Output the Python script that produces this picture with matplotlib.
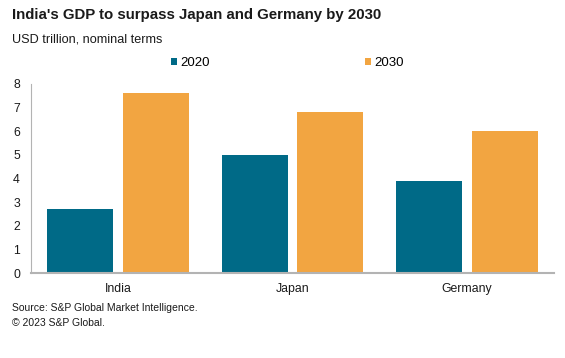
import matplotlib
matplotlib.use("Agg")
import matplotlib.pyplot as plt
import numpy as np

plt.rcParams["font.family"] = ["Liberation Sans", "DejaVu Sans"]

countries = ["India", "Japan", "Germany"]
years = ["2020", "2030"]
gdp_2020 = [2.7, 5.0, 3.9]
gdp_2030 = [7.6, 6.8, 6.0]
y_ticks = [0, 1, 2, 3, 4, 5, 6, 7, 8]

TEAL = "#006a87"
ORANGE = "#f2a541"
GREY = "#b3b3b3"
TXT = "#1a1a1a"

fig = plt.figure(figsize=(5.65, 3.58), dpi=100)
ax = fig.add_axes([31 / 565, 1 - 273 / 358, (554 - 31) / 565, (273 - 84) / 358])

x = np.arange(len(countries))
w = 0.378
off = 0.217
b1 = ax.bar(x - off, gdp_2020, w, color=TEAL, label=years[0])
b2 = ax.bar(x + off, gdp_2030, w, color=ORANGE, label=years[1])

ax.set_xlim(-0.5, len(countries) - 0.5)
ax.set_ylim(0, 8)
ax.set_yticks(y_ticks)
ax.set_xticks(x)
ax.set_xticklabels(countries)
ax.tick_params(axis="both", length=0, labelsize=8.8, colors=TXT)
ax.tick_params(axis="y", pad=8)
ax.tick_params(axis="x", pad=7)

for s in ["top", "right"]:
    ax.spines[s].set_visible(False)
ax.spines["left"].set_color(GREY)
ax.spines["left"].set_linewidth(0.8)
ax.spines["bottom"].set_color(GREY)
ax.spines["bottom"].set_linewidth(1.5)

# legend spread out like the original
for h, xpos in [(b1, 171), (b2, 365)]:
    fig.legend(handles=[h], loc="center left", bbox_to_anchor=(xpos / 565, 1 - 63 / 358),
               frameon=False, fontsize=9.5, handlelength=0.42, handleheight=0.42,
               handletextpad=0.3, borderaxespad=0, borderpad=0)

fig.text(12 / 565, 1 - 15 / 358, "India's GDP to surpass Japan and Germany by 2030",
         fontsize=10.8, fontweight="bold", color=TXT, va="center")
fig.text(12 / 565, 1 - 39 / 358, "USD trillion, nominal terms",
         fontsize=9.1, color=TXT, va="center")
fig.text(12 / 565, 1 - 308 / 358, "Source: S&P Global Market Intelligence.",
         fontsize=7.5, color=TXT, va="center")
fig.text(12 / 565, 1 - 323 / 358, "\u00a9 2023 S&P Global.",
         fontsize=7.5, color=TXT, va="center")

fig.savefig("out.png", dpi=100)
